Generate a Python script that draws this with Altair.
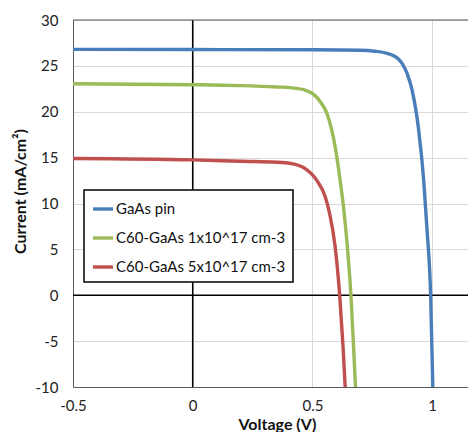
import altair as alt
import pandas as pd

series_names = ["GaAs pin", "C60-GaAs 1x10^17 cm-3", "C60-GaAs 5x10^17 cm-3"]
series_colors = ["#4A7EBB", "#9BBB59", "#C0504D"]

gaas_v = [-0.5, 0.0, 0.5, 0.7, 0.76, 0.812, 0.85, 0.874, 0.895, 0.916, 0.944, 0.965, 0.979, 0.994, 1.003]
gaas_j = [26.8, 26.78, 26.75, 26.7, 26.6, 26.37, 25.95, 25.3, 24.2, 22.4, 18.0, 12.5, 7.1, 0.0, -10.0]

c1_v = [-0.5, 0.0, 0.2, 0.35, 0.414, 0.47, 0.505, 0.533, 0.561, 0.595, 0.616, 0.633, 0.646, 0.661, 0.672, 0.68]
c1_j = [23.05, 22.95, 22.85, 22.7, 22.6, 22.35, 21.9, 21.1, 19.8, 16.2, 12.5, 8.9, 5.3, 0.0, -5.6, -10.0]

c5_v = [-0.5, 0.0, 0.2, 0.35, 0.414, 0.47, 0.519, 0.554, 0.572, 0.595, 0.614, 0.628, 0.637]
c5_j = [14.9, 14.75, 14.6, 14.5, 14.35, 13.8, 12.5, 10.7, 8.9, 5.3, 0.0, -5.6, -10.0]

x_ticks = [-0.5, 0, 0.5, 1]
y_ticks = [-10, -5, 0, 5, 10, 15, 20, 25, 30]

rows = []
for name, vs, js in zip(series_names, [gaas_v, c1_v, c5_v], [gaas_j, c1_j, c5_j]):
    for i, (v, j) in enumerate(zip(vs, js)):
        rows.append({"series": name, "V": v, "J": j, "order": i})
df = pd.DataFrame(rows)

W, H = 395, 367
FONT = "Lato"

x_scale = alt.Scale(domain=[-0.5, 1.15], nice=False, zero=False)
y_scale = alt.Scale(domain=[-10, 30], nice=False, zero=False)

x_axis = alt.Axis(values=x_ticks, title="Voltage (V)", labelExpr="datum.value + ''",
                  grid=True, ticks=False, labelPadding=11, titleY=29, titleX=204,
                  titleBaseline="top", labelFlush=False, labelOverlap=False)
y_axis = alt.Axis(values=y_ticks, title="Current (mA/cm²)", labelExpr="datum.value + ''",
                  grid=True, ticks=False, labelPadding=15, titleX=-53, titleY=171,
                  titleBaseline="middle", labelFlush=False, labelOverlap=False)

vzero = alt.Chart(pd.DataFrame({"V": [0]})).mark_rule(color="black", strokeWidth=1.5).encode(
    x=alt.X("V:Q", scale=x_scale, axis=x_axis))
hzero = alt.Chart(pd.DataFrame({"J": [0]})).mark_rule(color="black", strokeWidth=1.5).encode(
    y=alt.Y("J:Q", scale=y_scale, axis=y_axis))
top = alt.Chart(pd.DataFrame({"a": [0]})).mark_rule(color="#595959", strokeWidth=1).encode(
    x=alt.value(0), x2=alt.value(W), y=alt.value(0))

lines = alt.Chart(df).mark_line(strokeWidth=3.4, clip=True, interpolate="monotone").encode(
    x=alt.X("V:Q", scale=x_scale, axis=x_axis),
    y=alt.Y("J:Q", scale=y_scale, axis=y_axis),
    color=alt.Color("series:N", scale=alt.Scale(domain=series_names, range=series_colors),
                    legend=alt.Legend(orient="none", legendX=11, legendY=170, title=None,
                                      strokeColor="black", fillColor="white", padding=7,
                                      symbolType="stroke", symbolStrokeWidth=3.4, symbolSize=400,
                                      rowPadding=9, labelOffset=1, labelLimit=400)),
    order="order:Q",
)

chart = alt.layer(vzero, hzero, top, lines).properties(
    width=W, height=H,
    autosize=alt.AutoSizeParams(type="none"),
    padding={"left": 73, "top": 20, "right": 0, "bottom": 45},
).configure_view(stroke=None).configure_axis(
    labelFont=FONT, labelFontSize=15, labelColor="#222222",
    titleFont=FONT, titleFontSize=16, titleFontWeight="bold", titleColor="#111111",
    gridColor="#d9d9d9", gridWidth=1, domainColor="#595959", domainWidth=1,
).configure_legend(
    labelFont=FONT, labelFontSize=15, labelColor="#111111", strokeWidth=1.5,
)

chart.save("out.html", embed_options={"renderer": "svg", "actions": False})
